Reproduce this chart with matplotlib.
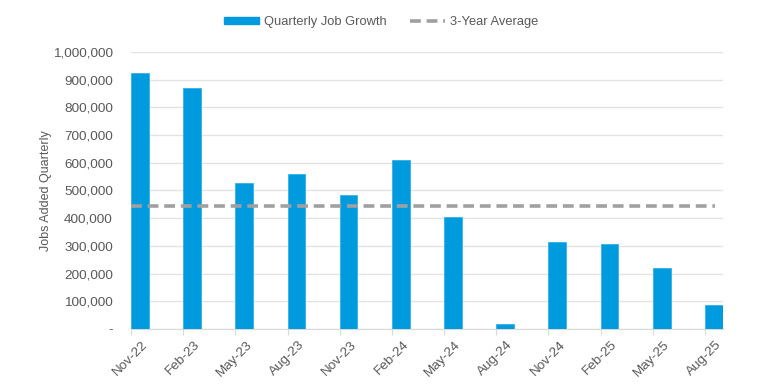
import matplotlib
matplotlib.use("Agg")
import matplotlib.pyplot as plt
from matplotlib.ticker import FuncFormatter
from matplotlib.lines import Line2D
from matplotlib.patches import Patch

categories = ["Nov-22", "Feb-23", "May-23", "Aug-23", "Nov-23", "Feb-24",
              "May-24", "Aug-24", "Nov-24", "Feb-25", "May-25", "Aug-25"]
job_growth = [922000, 871000, 526000, 559000, 483000, 608000,
              405000, 18000, 314000, 307000, 219000, 88000]
three_year_avg = sum(job_growth) / len(job_growth)

plt.rcParams['font.family'] = ['Liberation Sans', 'DejaVu Sans']
gray = "#595959"

fig = plt.figure(figsize=(7.68, 3.87), dpi=100)
ax = fig.add_axes([0.1706, 0.150, 0.941 - 0.1706, 0.866 - 0.150])

bar_w = 0.34
x = list(range(len(categories)))
ax.bar(x, job_growth, width=bar_w, align='edge', color="#009ADE", zorder=3,
       edgecolor="#33B0E8", linewidth=0.6)
ax.hlines(three_year_avg, 0, len(categories) - 0.8, colors="#A0A0A0",
          linestyles=(0, (3, 1.6)), linewidth=2.6, zorder=4)

ax.set_xlim(0, len(categories) - 1 + bar_w)
ax.set_ylim(0, 1000000)
ax.set_yticks(range(0, 1000001, 100000))
ax.yaxis.set_major_formatter(FuncFormatter(lambda v, p: "-" if v == 0 else f"{int(v):,}"))
ax.set_xticks(x)
ax.set_xticklabels([])
ax.set_xticks([i + bar_w * 0.6 for i in x], minor=True)
ax.set_xticklabels(categories, minor=True, rotation=45, ha='right', va='top',
                   rotation_mode='anchor')

ax.grid(axis='y', color="#E3E3E3", linewidth=1, zorder=0)
for s in ['top', 'right', 'left']:
    ax.spines[s].set_visible(False)
ax.spines['bottom'].set_color("#D9D9D9")
ax.tick_params(axis='y', length=0, labelsize=9.7, labelcolor=gray, pad=13)
ax.tick_params(axis='x', which='major', length=4, color="#D9D9D9")
ax.tick_params(axis='x', which='minor', length=0, labelsize=9.7, labelcolor=gray, pad=7)

ax.set_ylabel("Jobs Added Quarterly", color=gray, fontsize=9, labelpad=1)

handles = [Patch(color="#009ADE", label="Quarterly Job Growth"),
           Line2D([0], [0], color="#A0A0A0", linestyle=(0, (3, 1.6)), linewidth=2.6,
                  label="3-Year Average")]
leg = fig.legend(handles=handles, loc='center', bbox_to_anchor=(0.496, 0.943), ncol=2,
                 frameon=False, fontsize=9.3, handlelength=2.7, handleheight=0.5,
                 columnspacing=1.8, handletextpad=0.4)
for t in leg.get_texts():
    t.set_color(gray)

fig.savefig("out.png", dpi=100)
